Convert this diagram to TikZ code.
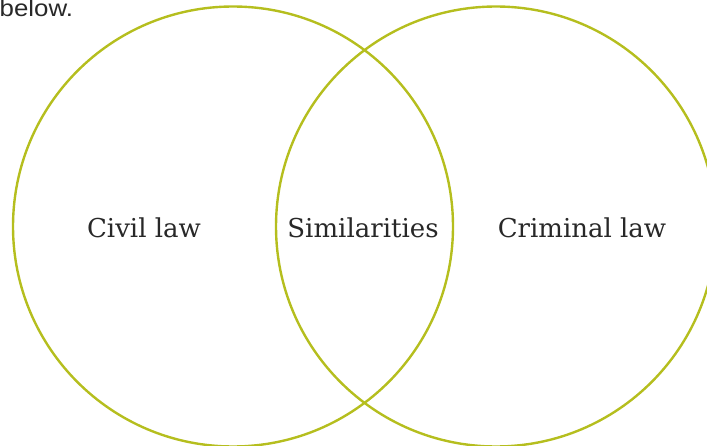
\documentclass[tikz,border=0pt]{standalone}
\usepackage{fontspec}
\setmainfont{DejaVu Serif}
\newfontfamily\introfont{Liberation Sans}
\definecolor{venngreen}{RGB}{181,190,30}
\definecolor{textgray}{RGB}{40,40,40}
\begin{document}
\begin{tikzpicture}[x=1pt,y=1pt,
  venn/.style={circle, draw=venngreen, line width=2.4pt, minimum size=440pt, inner sep=0pt},
  lbl/.style={font=\fontsize{26}{30}\selectfont, text=textgray, inner sep=0pt}]
\useasboundingbox (0,0) rectangle (707,445);
\clip (0,0) rectangle (707,445);
\node[venn] (civil) at (233,218.5) {};
\node[venn] (criminal) at (496,218.5) {};
\node[lbl] (civiltext) at (144,217) {Civil law};
\node[lbl] (simtext) at (363,217) {Similarities};
\node[lbl] (crimtext) at (582,217) {Criminal law};
\node[anchor=base west, inner sep=0pt, text=textgray, font=\introfont\fontsize{23.5}{28}\selectfont] (intro) at (-0.5,428) {\scalebox{1.1}[1]{below.}};
\end{tikzpicture}
\end{document}
